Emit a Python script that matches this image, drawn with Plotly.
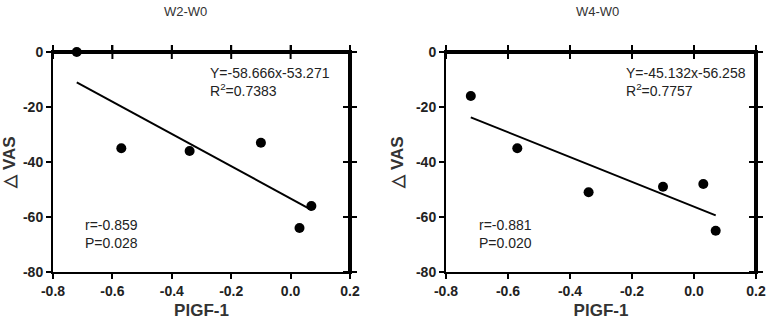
import plotly.graph_objects as go

W, H = 768, 322

# data
x_vals = [-0.72, -0.57, -0.34, -0.10, 0.03, 0.07]
y_w2 = [0, -35, -36, -33, -64, -56]
y_w4 = [-16, -35, -51, -49, -48, -65]
fit_w2 = (-58.666, -53.271)
fit_w4 = (-45.132, -56.258)
titles = ["W2-W0", "W4-W0"]
eq_texts = ["Y=-58.666x-53.271<br>R<sup>2</sup>=0.7383", "Y=-45.132x-56.258<br>R<sup>2</sup>=0.7757"]
stat_texts = ["r=-0.859<br>P=0.028", "r=-0.881<br>P=0.020"]
x_ticks = [-0.8, -0.6, -0.4, -0.2, 0.0, 0.2]
y_ticks = [0, -20, -40, -60, -80]
x_range = [-0.8, 0.2]
y_range = [-80, 0]


def px_x(v):
    return v / W


def px_y(v):
    return 1 - v / H


fig = go.Figure()

panels = [
    dict(sx="", xdom=(px_x(53), px_x(350)), ys=y_w2, fit=fit_w2),
    dict(sx="2", xdom=(px_x(446), px_x(756)), ys=y_w4, fit=fit_w4),
]
ydom = (px_y(272), px_y(52))

for p in panels:
    xa, ya = "x" + p["sx"], "y" + p["sx"]
    # top and right frame edges, drawn along the axis ranges
    fig.add_trace(go.Scatter(x=[x_range[0], x_range[1], x_range[1]],
                             y=[y_range[1], y_range[1], y_range[0]], mode="lines",
                             line=dict(color="black", width=4), xaxis=xa, yaxis=ya,
                             showlegend=False, hoverinfo="skip"))
    # tick marks on the top and right edges
    fig.add_trace(go.Scatter(x=x_ticks, y=[y_range[1]] * len(x_ticks), mode="markers",
                             marker=dict(symbol="line-ns", size=10, line=dict(color="black", width=2)),
                             xaxis=xa, yaxis=ya, showlegend=False, hoverinfo="skip", cliponaxis=False))
    fig.add_trace(go.Scatter(x=[x_range[1]] * len(y_ticks), y=y_ticks, mode="markers",
                             marker=dict(symbol="line-ew", size=10, line=dict(color="black", width=2)),
                             xaxis=xa, yaxis=ya, showlegend=False, hoverinfo="skip", cliponaxis=False))
    xmin, xmax = min(x_vals), max(x_vals)
    m, b = p["fit"]
    fig.add_trace(go.Scatter(x=[xmin, xmax], y=[m * xmin + b, m * xmax + b], mode="lines",
                             line=dict(color="black", width=2), xaxis=xa, yaxis=ya,
                             showlegend=False, hoverinfo="skip"))
    fig.add_trace(go.Scatter(x=x_vals, y=p["ys"], mode="markers",
                             marker=dict(color="black", size=10), xaxis=xa, yaxis=ya,
                             showlegend=False, cliponaxis=False))

axis_common = dict(showgrid=False, zeroline=False, showline=True, linecolor="black", linewidth=2,
                   mirror="ticks", ticks="outside", ticklen=5, tickwidth=2, tickcolor="black",
                   automargin=False)
layout = dict(width=W, height=H, margin=dict(l=0, r=0, t=0, b=0),
              paper_bgcolor="white", plot_bgcolor="white", showlegend=False)
tfont = dict(family="Liberation Sans", size=14, color="#222")
tit_font = dict(family="Liberation Sans", size=17, color="#333")
for p in panels:
    sx = p["sx"]
    layout["xaxis" + sx] = dict(axis_common, domain=list(p["xdom"]), range=x_range,
                                tickvals=x_ticks, ticktext=[f"<b>{v:.1f}</b>" for v in x_ticks],
                                anchor="y" + sx, tickfont=tfont,
                                title=dict(text="<b>PlGF-1</b>", font=tit_font, standoff=6))
    layout["yaxis" + sx] = dict(axis_common, domain=list(ydom), range=y_range,
                                tickvals=y_ticks, ticktext=[f"<b>{v}</b>" for v in y_ticks],
                                anchor="x" + sx, tickfont=tfont,
                                title=dict(text="<b>△ VAS</b>", font=tit_font, standoff=8))
fig.update_layout(**layout)

ann = []
title_x = [185, 597]
eq_x = [208, 624]
stat_x = [83, 477]
for i in range(2):
    ann.append(dict(text=titles[i], x=px_x(title_x[i]), y=px_y(12), xref="paper", yref="paper",
                    showarrow=False, xanchor="center", yanchor="middle",
                    font=dict(family="Liberation Sans", size=13, color="#333")))
    ann.append(dict(text=eq_texts[i], x=px_x(eq_x[i]), y=px_y(63), xref="paper", yref="paper",
                    showarrow=False, xanchor="left", yanchor="top", align="left",
                    font=dict(family="Liberation Sans", size=14, color="#222")))
    ann.append(dict(text=stat_texts[i], x=px_x(stat_x[i]), y=px_y(215), xref="paper", yref="paper",
                    showarrow=False, xanchor="left", yanchor="top", align="left",
                    font=dict(family="Liberation Sans", size=14, color="#222")))
fig.update_layout(annotations=ann)

fig.write_html("out.html", config={"displayModeBar": False},
               post_script="document.body.style.margin='0px';")
